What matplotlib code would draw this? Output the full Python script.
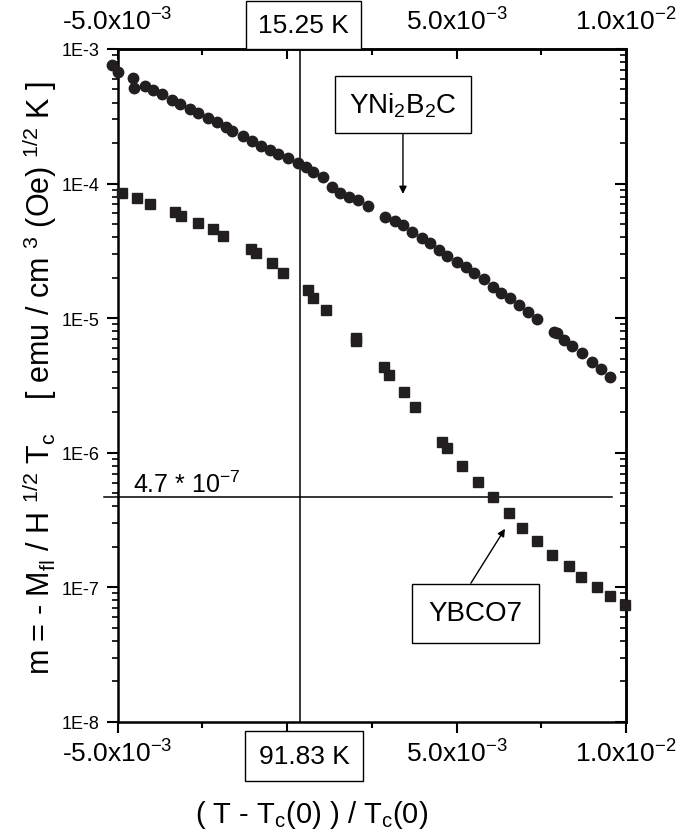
import matplotlib
matplotlib.use("Agg")
import matplotlib.pyplot as plt
import numpy as np
from matplotlib.ticker import LogLocator, NullFormatter

plt.rcParams['font.family'] = ['Liberation Sans', 'DejaVu Sans']
plt.rcParams['mathtext.default'] = 'regular'

# YNi2B2C (circles): reduced temperature in units of 1e-3, m values
yni_x = np.array([-5.17, -4.98, -4.53, -4.51, -4.19, -3.94, -3.70, -3.40, -3.16, -2.86,
                  -2.62, -2.34, -2.07, -1.80, -1.63, -1.31, -1.04, -0.77, -0.50, -0.27,
                  0.04, 0.32, 0.55, 0.78, 1.05, 1.33, 1.57, 1.84, 2.10, 2.40,
                  2.89, 3.19, 3.41, 3.68, 3.97, 4.22, 4.49, 4.71, 5.02, 5.27,
                  5.53, 5.80, 6.08, 6.32, 6.59, 6.85, 7.12, 7.38, 7.89, 7.95,
                  8.17, 8.41, 8.69, 9.00, 9.26, 9.54]) * 1e-3
yni_m = [7.65e-4, 6.78e-4, 6.06e-4, 5.13e-4, 5.34e-4, 4.98e-4, 4.63e-4, 4.20e-4, 3.90e-4, 3.58e-4,
         3.33e-4, 3.07e-4, 2.88e-4, 2.62e-4, 2.47e-4, 2.25e-4, 2.08e-4, 1.91e-4, 1.78e-4, 1.66e-4,
         1.54e-4, 1.42e-4, 1.32e-4, 1.21e-4, 1.11e-4, 9.43e-5, 8.51e-5, 7.98e-5, 7.50e-5, 6.76e-5,
         5.65e-5, 5.23e-5, 4.89e-5, 4.39e-5, 3.92e-5, 3.62e-5, 3.23e-5, 2.91e-5, 2.63e-5, 2.40e-5,
         2.15e-5, 1.95e-5, 1.71e-5, 1.55e-5, 1.41e-5, 1.25e-5, 1.11e-5, 9.81e-6, 7.86e-6, 7.70e-6,
         6.89e-6, 6.22e-6, 5.50e-6, 4.73e-6, 4.21e-6, 3.67e-6]

# YBCO7 (squares)
ybco_x = np.array([-4.86, -4.43, -4.04, -3.30, -3.13, -2.63, -2.19, -1.88, -1.06, -0.92,
                   -0.43, -0.12, 0.61, 0.78, 1.15, 2.02, 2.04, 2.87, 3.01, 3.45,
                   3.78, 4.56, 4.73, 5.17, 5.64, 6.09, 6.55, 6.94, 7.37, 7.83,
                   8.33, 8.67, 9.15, 9.53, 9.97]) * 1e-3
ybco_m = [8.51e-5, 7.82e-5, 7.05e-5, 6.18e-5, 5.77e-5, 5.10e-5, 4.60e-5, 4.10e-5, 3.27e-5, 3.05e-5,
          2.57e-5, 2.17e-5, 1.61e-5, 1.41e-5, 1.14e-5, 7.13e-6, 6.81e-6, 4.32e-6, 3.78e-6, 2.84e-6,
          2.18e-6, 1.21e-6, 1.08e-6, 8.02e-7, 6.04e-7, 4.67e-7, 3.55e-7, 2.76e-7, 2.20e-7, 1.75e-7,
          1.43e-7, 1.19e-7, 1.00e-7, 8.68e-8, 7.40e-8]

# reference lines
vline_x = 3.8e-4
hline_m = 4.7e-7
hline_x = [-5.4e-3, 9.6e-3]

x_major = [-5e-3, 0, 5e-3, 1e-2]
x_minor = [-2.5e-3, 2.5e-3, 7.5e-3]
x_labels = [r'-5.0x10$^{-3}$', '', r'5.0x10$^{-3}$', r'1.0x10$^{-2}$']
y_major = [1e-8, 1e-7, 1e-6, 1e-5, 1e-4, 1e-3]
y_labels = ['1E-8', '1E-7', '1E-6', '1E-5', '1E-4', '1E-3']

ink = '#231f20'

fig = plt.figure(figsize=(6.77, 8.37), dpi=100)
ax = fig.add_axes([0.1736, 0.1364, 0.7511, 0.8039])

ax.plot(yni_x, yni_m, 'o', ms=7.5, color=ink, mec=ink, clip_on=False, zorder=3)
ax.plot(ybco_x, ybco_m, 's', ms=6.5, color=ink, mec=ink, clip_on=False, zorder=3)

ax.set_yscale('log')
ax.set_xlim(-5e-3, 1e-2)
ax.set_ylim(1e-8, 1e-3)

ax.axvline(vline_x, color='k', lw=1.1)
ax.plot(hline_x, [hline_m, hline_m], color='k', lw=1.1, clip_on=False)
ax.text(-4.54e-3, 5.12e-7, r'4.7 * 10$^{-7}$', fontsize=18, va='baseline', ha='left')

for s in ax.spines.values():
    s.set_linewidth(1.8)

ax.set_xticks(x_major)
ax.set_xticklabels(x_labels, fontsize=19)
ax.set_xticks(x_minor, minor=True)
ax.tick_params(axis='x', which='major', direction='out', length=8, width=1.5, pad=5)
ax.tick_params(axis='x', which='minor', direction='out', length=4.5, width=1.5)

ax.set_yticks(y_major)
ax.set_yticklabels(y_labels, fontsize=13)
ax.yaxis.set_minor_locator(LogLocator(base=10, subs=np.arange(2, 10)))
ax.yaxis.set_minor_formatter(NullFormatter())
ax.tick_params(axis='y', which='major', direction='out', length=8, width=1.5, pad=5)
ax.tick_params(axis='y', which='minor', direction='out', length=4.5, width=1.2)

secx = ax.secondary_xaxis('top')
secx.set_xticks(x_major)
secx.set_xticklabels(x_labels, fontsize=19)
secx.set_xticks(x_minor, minor=True)
secx.tick_params(axis='x', which='major', direction='in', length=7, width=1.5, pad=10)
secx.tick_params(axis='x', which='minor', direction='in', length=4.5, width=1.5)
secx.spines['top'].set_linewidth(1.8)

secy = ax.secondary_yaxis('right')
secy.set_yticks(y_major)
secy.set_yticklabels([])
secy.yaxis.set_minor_locator(LogLocator(base=10, subs=np.arange(2, 10)))
secy.yaxis.set_minor_formatter(NullFormatter())
secy.tick_params(axis='y', which='major', direction='in', length=8, width=1.5)
secy.tick_params(axis='y', which='minor', direction='in', length=4.5, width=1.2)
secy.spines['right'].set_linewidth(1.8)

box = dict(boxstyle='square,pad=0.45', fc='white', ec='k', lw=1)
fig.text(303.5 / 677, 1 - 26 / 837, '15.25 K', ha='center', va='center', fontsize=19,
         bbox=box, zorder=5)
fig.text(304 / 677, 1 - 757 / 837, '91.83 K', ha='center', va='center', fontsize=19,
         bbox=dict(boxstyle='square,pad=0.5', fc='white', ec='k', lw=1), zorder=5)

ax.annotate(r'YNi$_2$B$_2$C', xy=(3.42e-3, 8.37e-5), xytext=(3.42e-3, 3.87e-4),
            ha='center', va='center', fontsize=20,
            bbox=dict(boxstyle='square,pad=0.5', fc='white', ec='k', lw=1),
            arrowprops=dict(arrowstyle='-|>', color='k', lw=1, mutation_scale=11,
                            shrinkA=0, shrinkB=0, relpos=(0.5, 0)))
ax.annotate('YBCO7', xy=(6.43e-3, 2.72e-7), xytext=(5.55e-3, 6.4e-8),
            ha='center', va='center', fontsize=20,
            bbox=dict(boxstyle='square,pad=0.6', fc='white', ec='k', lw=1),
            arrowprops=dict(arrowstyle='-|>', color='k', lw=1, mutation_scale=11,
                            shrinkA=0, shrinkB=0, relpos=(0.34, 1)))

fig.text(312 / 677, 1 - 815 / 837, r'( T - T$_c$(0) ) / T$_c$(0)', ha='center', va='center',
         fontsize=21)
fig.text(40 / 677, 1 - 378 / 837,
         r'm = - M$_{fl}$ / H $^{1/2}$ T$_c$    [ emu / cm $^3$ (Oe) $^{1/2}$ K ]',
         rotation=90, ha='center', va='center', fontsize=22)

fig.savefig('out.png', dpi=100)
